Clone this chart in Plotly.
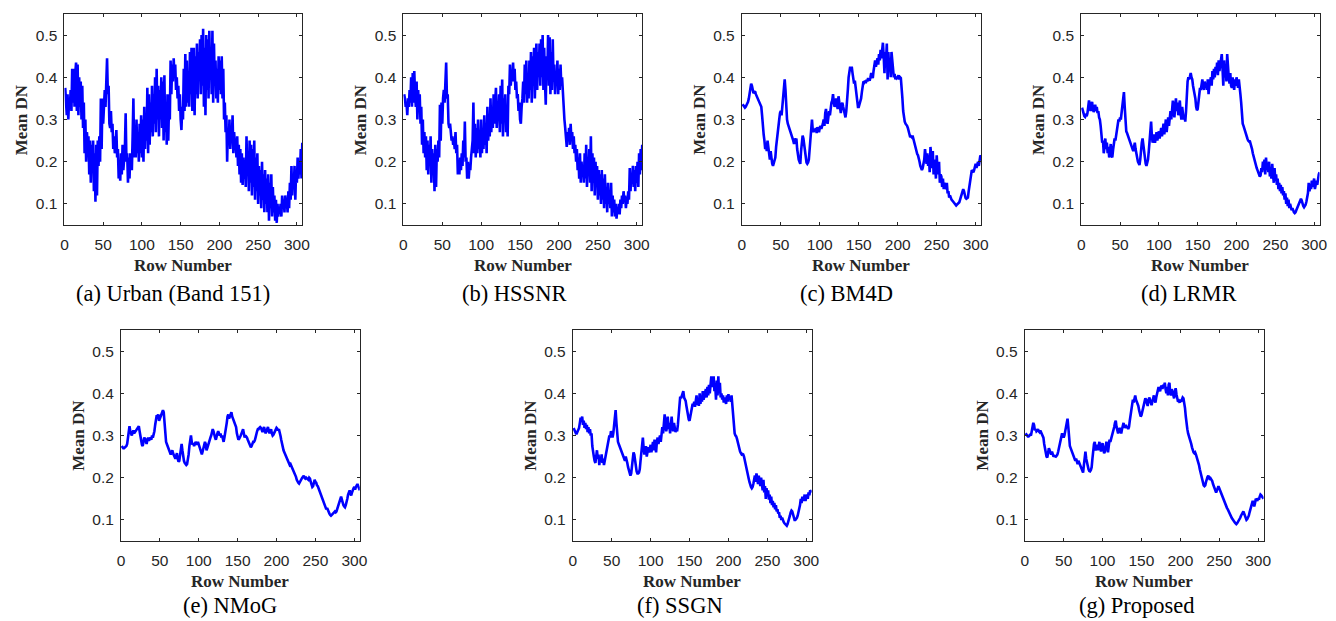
import plotly.graph_objects as go

W, H = 1336, 621

# Row index of the image (1..307)
rows = list(range(1, 308))

x_ticks = [0, 50, 100, 150, 200, 250, 300]
y_ticks = [0.1, 0.2, 0.3, 0.4, 0.5]

# Mean DN per row, band 151
urban = [
    .375, .34, .31, .36, .30, .35, .33, .37, .32, .42,
    .34, .42, .33, .41, .435, .32, .43, .31, .40, .33,
    .39, .30, .38, .28, .34, .22, .30, .20, .27, .24,
    .26, .17, .25, .15, .24, .18, .25, .13, .22, .105,
    .24, .12, .25, .19, .26, .20, .35, .23, .35, .29,
    .34, .37, .33, .40, .445, .36, .38, .29, .28, .32,
    .27, .29, .23, .26, .22, .24, .275, .21, .23, .16,
    .20, .155, .22, .17, .24, .18, .21, .23, .315, .20,
    .22, .15, .21, .16, .22, .19, .18, .26, .35, .21,
    .28, .21, .30, .22, .27, .20, .29, .22, .31, .21,
    .30, .20, .33, .23, .31, .25, .375, .22, .36, .24,
    .34, .27, .38, .26, .36, .29, .40, .27, .42, .30,
    .38, .26, .37, .30, .40, .28, .39, .25, .405, .27,
    .33, .24, .36, .25, .34, .30, .44, .36, .43, .39,
    .445, .40, .43, .37, .40, .35, .38, .32, .36, .30,
    .275, .33, .30, .42, .32, .455, .33, .44, .34, .40,
    .33, .46, .36, .47, .32, .44, .47, .31, .45, .36,
    .48, .35, .46, .40, .49, .36, .50, .38, .515, .33,
    .47, .31, .50, .37, .49, .35, .51, .40, .46, .36,
    .51, .34, .48, .38, .44, .35, .42, .34, .45, .37,
    .44, .36, .45, .35, .42, .30, .34, .27, .31, .20,
    .28, .24, .30, .23, .27, .25, .31, .22, .27, .24,
    .25, .21, .26, .19, .24, .17, .23, .15, .22, .145,
    .21, .16, .20, .14, .26, .17, .22, .13, .25, .15,
    .24, .12, .23, .14, .25, .11, .21, .13, .22, .10,
    .19, .12, .18, .09, .20, .11, .17, .08, .18, .10,
    .16, .08, .17, .06, .15, .09, .17, .07, .14, .08,
    .12, .06, .11, .055, .10, .07, .09, .08, .10, .07,
    .12, .09, .11, .08, .12, .10, .11, .08, .13, .09,
    .15, .11, .19, .12, .17, .14, .19, .11, .18, .15,
    .21, .16, .20, .17, .23, .16, .245,
]

hssnr = [
    .36, .35, .33, .34, .31, .35, .33, .37, .34, .40,
    .33, .41, .34, .415, .36, .33, .39, .30, .37, .32,
    .36, .29, .33, .24, .30, .22, .27, .21, .26, .18,
    .25, .17, .24, .19, .26, .15, .23, .17, .22, .13,
    .24, .14, .23, .20, .25, .21, .335, .25, .34, .29,
    .35, .37, .34, .38, .435, .35, .36, .29, .28, .29,
    .27, .25, .26, .24, .25, .23, .27, .22, .24, .17,
    .20, .17, .21, .18, .22, .19, .25, .21, .295, .20,
    .21, .16, .20, .16, .19, .18, .21, .24, .25, .34,
    .22, .29, .21, .28, .22, .30, .23, .27, .21, .30,
    .22, .28, .23, .31, .24, .29, .22, .33, .25, .30,
    .26, .35, .27, .33, .28, .36, .29, .34, .375, .28,
    .33, .30, .36, .27, .38, .29, .395, .26, .35, .30,
    .36, .27, .33, .26, .38, .36, .43, .38, .41, .39,
    .435, .39, .42, .37, .39, .35, .36, .32, .34, .30,
    .29, .33, .35, .39, .34, .43, .36, .44, .34, .41,
    .35, .44, .37, .46, .34, .45, .38, .47, .35, .44,
    .48, .37, .46, .40, .48, .38, .49, .40, .50, .37,
    .47, .39, .335, .45, .40, .50, .38, .495, .36, .46,
    .37, .49, .39, .43, .36, .41, .38, .44, .36, .42,
    .37, .43, .38, .40, .36, .35, .30, .28, .26, .235,
    .27, .25, .28, .24, .29, .25, .27, .23, .26, .22,
    .24, .20, .23, .18, .21, .16, .22, .15, .20, .17,
    .19, .15, .22, .16, .24, .14, .20, .17, .23, .15,
    .26, .13, .22, .15, .21, .12, .20, .14, .19, .11,
    .18, .12, .17, .10, .18, .11, .16, .09, .17, .10,
    .14, .08, .15, .10, .13, .09, .15, .07, .12, .08,
    .11, .07, .10, .065, .09, .08, .10, .075, .11, .09,
    .12, .10, .13, .11, .12, .09, .11, .10, .13, .11,
    .185, .13, .17, .15, .19, .14, .18, .13, .19, .15,
    .20, .14, .22, .17, .23, .18, .24,
]

bm4d = [
    .336, .333, .330, .328, .330, .333, .338, .342, .350, .365,
    .378, .385, .380, .368, .362, .365, .367, .360, .355, .350,
    .345, .340, .338, .333, .330, .310, .280, .265, .250, .230,
    .245, .225, .250, .230, .210, .205, .225, .200, .195, .190,
    .195, .200, .210, .235, .255, .265, .285, .300, .315, .320,
    .310, .330, .365, .380, .395, .370, .330, .300, .290, .285,
    .280, .270, .265, .260, .255, .250, .242, .255, .250, .255,
    .230, .215, .205, .200, .195, .225, .255, .262, .255, .240,
    .220, .205, .198, .195, .198, .205, .230, .265, .290, .300,
    .275, .270, .278, .272, .280, .268, .282, .275, .270, .280,
    .285, .278, .282, .290, .300, .285, .315, .325, .300, .290,
    .305, .320, .310, .330, .340, .345, .360, .340, .330, .335,
    .350, .335, .325, .355, .340, .320, .315, .335, .340, .330,
    .320, .315, .305, .320, .340, .370, .400, .420, .425, .415,
    .425, .410, .400, .385, .392, .375, .355, .340, .330, .330,
    .335, .340, .350, .365, .385, .390, .388, .392, .386, .394,
    .390, .398, .395, .392, .400, .410, .404, .398, .415, .430,
    .440, .425, .435, .445, .430, .455, .440, .465, .445, .470,
    .482, .450, .410, .460, .440, .480, .395, .460, .420, .440,
    .400, .460, .440, .415, .400, .408, .395, .402, .398, .400,
    .405, .395, .400, .398, .380, .350, .320, .300, .295, .290,
    .288, .285, .280, .270, .262, .258, .260, .258, .262, .255,
    .245, .235, .230, .225, .218, .215, .210, .200, .190, .182,
    .180, .185, .195, .205, .230, .205, .195, .220, .190, .215,
    .175, .235, .200, .185, .225, .170, .205, .190, .160, .215,
    .185, .170, .200, .150, .170, .165, .140, .160, .135, .150,
    .140, .135, .150, .125, .130, .115, .120, .112, .110, .108,
    .105, .102, .100, .098, .096, .098, .100, .102, .104, .110,
    .118, .125, .130, .135, .130, .120, .114, .112, .113, .115,
    .130, .145, .160, .170, .180, .178, .175, .180, .190, .195,
    .185, .195, .200, .190, .205, .215, .212,
]

lrmr = [
    .328, .320, .312, .308, .306, .310, .308, .315, .330, .345,
    .335, .320, .330, .342, .325, .318, .322, .335, .320, .330,
    .315, .320, .305, .300, .285, .270, .245, .250, .220, .235,
    .255, .230, .245, .220, .235, .210, .225, .242, .215, .210,
    .228, .245, .255, .250, .262, .270, .285, .300, .295, .305,
    .300, .320, .340, .355, .365, .330, .290, .272, .268, .262,
    .258, .252, .245, .240, .235, .228, .225, .235, .245, .230,
    .215, .210, .200, .195, .192, .205, .230, .245, .255, .240,
    .220, .205, .195, .190, .195, .205, .225, .250, .275, .295,
    .260, .245, .255, .265, .245, .260, .270, .250, .262, .272,
    .255, .268, .280, .260, .278, .290, .265, .285, .300, .270,
    .290, .305, .285, .310, .320, .300, .335, .345, .320, .305,
    .330, .350, .320, .340, .310, .325, .345, .315, .300, .330,
    .320, .300, .310, .295, .320, .360, .390, .400, .395, .402,
    .410, .400, .395, .380, .372, .365, .350, .330, .322, .325,
    .340, .360, .375, .370, .385, .395, .380, .370, .390, .375,
    .385, .370, .395, .360, .380, .390, .400, .380, .415, .395,
    .420, .400, .425, .410, .435, .405, .440, .415, .430, .445,
    .455, .420, .380, .440, .400, .430, .390, .455, .410, .400,
    .385, .410, .380, .375, .400, .380, .370, .395, .380, .400,
    .385, .375, .395, .365, .360, .340, .310, .290, .285, .278,
    .275, .265, .262, .255, .250, .248, .250, .245, .240, .230,
    .220, .212, .205, .195, .190, .185, .180, .175, .170, .165,
    .168, .185, .175, .200, .180, .205, .170, .210, .185, .195,
    .175, .200, .165, .180, .160, .195, .170, .150, .185, .155,
    .170, .145, .160, .135, .150, .130, .145, .125, .140, .120,
    .130, .110, .125, .100, .115, .095, .110, .090, .100, .088,
    .085, .090, .082, .080, .078, .080, .085, .090, .095, .100,
    .105, .110, .112, .108, .100, .095, .092, .095, .098, .105,
    .115, .125, .150, .130, .145, .135, .155, .140, .150, .160,
    .135, .150, .155, .145, .165, .170, .175,
]

nmog = [
    .275, .272, .270, .270, .272, .275, .275, .280, .300, .315,
    .322, .310, .305, .300, .308, .312, .305, .308, .312, .316,
    .318, .320, .322, .310, .295, .285, .278, .275, .285, .295,
    .292, .285, .280, .290, .295, .288, .292, .295, .290, .300,
    .295, .300, .310, .325, .340, .348, .345, .350, .335, .340,
    .345, .350, .355, .360, .355, .330, .300, .285, .280, .275,
    .268, .265, .258, .255, .260, .265, .258, .252, .248, .245,
    .252, .258, .245, .238, .240, .255, .270, .280, .265, .250,
    .240, .235, .232, .230, .232, .240, .255, .275, .290, .300,
    .285, .278, .282, .275, .280, .285, .282, .278, .285, .280,
    .275, .268, .260, .255, .262, .270, .275, .285, .280, .265,
    .270, .278, .285, .290, .295, .300, .305, .315, .310, .300,
    .295, .290, .300, .305, .310, .305, .300, .305, .295, .300,
    .290, .285, .295, .305, .315, .330, .345, .350, .340, .345,
    .350, .355, .345, .340, .335, .335, .330, .320, .305, .295,
    .290, .292, .295, .300, .305, .310, .315, .305, .295, .300,
    .298, .295, .290, .285, .280, .275, .272, .275, .282, .285,
    .285, .288, .295, .305, .310, .315, .315, .318, .320, .318,
    .312, .308, .315, .320, .312, .305, .310, .318, .320, .310,
    .305, .310, .315, .305, .300, .302, .306, .312, .315, .318,
    .316, .312, .315, .310, .300, .290, .280, .272, .265, .260,
    .255, .250, .245, .240, .235, .232, .230, .232, .228, .222,
    .218, .212, .208, .205, .202, .195, .190, .188, .186, .190,
    .195, .198, .200, .202, .205, .200, .198, .200, .198, .195,
    .195, .200, .198, .190, .182, .178, .180, .190, .195, .190,
    .188, .182, .180, .175, .170, .165, .160, .158, .152, .150,
    .145, .138, .130, .125, .128, .122, .118, .115, .112, .110,
    .112, .115, .116, .118, .120, .118, .120, .125, .130, .135,
    .140, .150, .155, .148, .140, .135, .132, .130, .135, .140,
    .150, .160, .165, .170, .162, .158, .165, .172, .175, .178,
    .172, .178, .182, .185, .180, .175, .170,
]

ssgn = [
    .318, .312, .308, .305, .305, .310, .312, .318, .330, .342,
    .335, .345, .325, .335, .318, .330, .315, .325, .308, .320,
    .305, .315, .300, .305, .275, .255, .250, .240, .235, .250,
    .265, .245, .255, .230, .248, .240, .255, .235, .245, .230,
    .240, .250, .262, .275, .280, .290, .300, .295, .310, .305,
    .295, .305, .330, .345, .360, .330, .300, .285, .280, .275,
    .272, .268, .262, .258, .255, .245, .240, .250, .245, .235,
    .225, .218, .210, .205, .210, .225, .245, .260, .255, .240,
    .225, .215, .210, .210, .212, .220, .240, .260, .280, .295,
    .270, .255, .262, .275, .250, .265, .272, .260, .270, .278,
    .260, .275, .285, .265, .290, .275, .260, .285, .295, .280,
    .290, .300, .285, .310, .320, .305, .335, .350, .330, .310,
    .320, .345, .315, .330, .305, .325, .345, .320, .310, .330,
    .318, .308, .315, .310, .325, .355, .380, .392, .388, .395,
    .400, .405, .390, .385, .382, .370, .355, .345, .338, .335,
    .345, .355, .365, .375, .370, .380, .368, .378, .395, .372,
    .385, .370, .400, .375, .390, .380, .405, .385, .395, .400,
    .410, .390, .415, .395, .420, .400, .425, .440, .415, .430,
    .440, .405, .420, .385, .430, .395, .440, .400, .425, .390,
    .400, .385, .395, .378, .390, .382, .375, .395, .380, .398,
    .385, .392, .380, .395, .370, .345, .320, .305, .300, .298,
    .292, .285, .275, .265, .262, .258, .255, .256, .255, .250,
    .240, .230, .222, .215, .205, .198, .190, .182, .178, .175,
    .178, .185, .195, .205, .190, .210, .200, .185, .205, .195,
    .180, .200, .185, .170, .195, .165, .180, .150, .175, .160,
    .170, .148, .160, .140, .155, .135, .145, .130, .140, .125,
    .135, .120, .125, .115, .118, .105, .110, .100, .105, .098,
    .095, .092, .090, .088, .086, .090, .095, .100, .110, .118,
    .122, .120, .112, .105, .100, .100, .102, .105, .110, .118,
    .125, .135, .150, .140, .155, .145, .150, .160, .145, .155,
    .160, .150, .165, .158, .170, .168, .165,
]

proposed = [
    .305, .302, .300, .298, .298, .300, .302, .300, .310, .322,
    .330, .325, .312, .315, .310, .312, .315, .310, .308, .312,
    .308, .305, .300, .295, .280, .268, .258, .250, .248, .262,
    .270, .265, .258, .255, .262, .255, .250, .252, .250, .250,
    .252, .255, .262, .270, .280, .290, .298, .305, .300, .295,
    .300, .310, .320, .335, .340, .320, .290, .275, .270, .265,
    .262, .255, .248, .242, .240, .245, .238, .232, .240, .235,
    .228, .222, .218, .215, .212, .230, .250, .262, .245, .235,
    .228, .220, .216, .215, .218, .225, .245, .265, .280, .285,
    .265, .270, .278, .265, .275, .285, .270, .262, .275, .282,
    .270, .258, .262, .278, .285, .275, .260, .275, .290, .285,
    .292, .298, .300, .310, .320, .330, .335, .320, .310, .305,
    .310, .318, .312, .305, .315, .325, .330, .318, .322, .325,
    .318, .322, .315, .320, .335, .350, .365, .380, .385, .378,
    .390, .395, .385, .380, .378, .370, .360, .350, .345, .348,
    .355, .365, .372, .380, .388, .385, .375, .370, .382, .390,
    .385, .378, .372, .380, .388, .395, .385, .378, .390, .400,
    .408, .415, .410, .405, .415, .418, .410, .420, .415, .425,
    .410, .400, .415, .395, .420, .425, .400, .395, .410, .400,
    .395, .388, .405, .412, .398, .385, .380, .382, .378, .385,
    .380, .385, .390, .388, .380, .365, .345, .325, .315, .305,
    .300, .295, .288, .280, .272, .265, .260, .258, .260, .255,
    .250, .245, .238, .230, .220, .212, .205, .195, .188, .182,
    .180, .182, .190, .198, .202, .205, .200, .195, .198, .195,
    .192, .185, .180, .175, .170, .165, .170, .178, .180, .175,
    .170, .165, .158, .155, .150, .145, .140, .135, .132, .128,
    .125, .120, .115, .110, .108, .105, .102, .098, .095, .094,
    .092, .090, .092, .095, .098, .100, .105, .110, .115, .118,
    .120, .115, .108, .102, .100, .102, .105, .110, .118, .125,
    .130, .140, .145, .138, .132, .140, .150, .148, .145, .152,
    .148, .155, .160, .158, .155, .152, .150,
]

captions = ["(a) Urban (Band 151)", "(b) HSSNR", "(c) BM4D", "(d) LRMR",
            "(e) NMoG", "(f) SSGN", "(g) Proposed"]
series = [urban, hssnr, bm4d, lrmr, nmog, ssgn, proposed]

for name, s in zip(captions, series):
    assert len(s) == len(rows), (name, len(s))

# Panel boxes in pixels: left, right, top, bottom, caption centre x, caption centre y
boxes = [
    (61, 301, 14, 225, 171, 293),
    (403, 644, 14, 225, 515, 293),
    (744.5, 986, 14, 225, 850, 293),
    (1087, 1327.5, 14, 225, 1196, 293),
    (118, 359, 330, 541, 228, 605),
    (574, 815, 330, 541, 682, 605),
    (1030, 1271, 330, 541, 1143, 605),
]

AX_COLOR = "#262626"
TICK_FONT = dict(family="Liberation Sans, Arial, sans-serif", size=15.5, color=AX_COLOR)
LABEL_FONT = dict(family="Liberation Serif, Times New Roman, serif", size=17, color=AX_COLOR)
CAP_FONT = dict(family="Liberation Serif, Times New Roman, serif", size=22.5, color="#000000")


def px(xp):
    return xp / W


def py(yp):
    return 1 - yp / H


fig = go.Figure()
annotations = []
layout_axes = {}

for i, (cap, s, (l, r, t, b, cx, cy)) in enumerate(zip(captions, series, boxes), start=1):
    xa = "x" if i == 1 else f"x{i}"
    ya = "y" if i == 1 else f"y{i}"
    fig.add_trace(go.Scatter(
        x=rows, y=s, mode="lines", xaxis=xa, yaxis=ya,
        line=dict(color="#0000ff", width=2.6), showlegend=False,
    ))
    common = dict(showline=True, linecolor=AX_COLOR, linewidth=1, mirror="ticks",
                  ticks="inside", ticklen=3, tickcolor=AX_COLOR, tickwidth=1,
                  showgrid=False, zeroline=False, tickfont=TICK_FONT)
    layout_axes[f"xaxis{'' if i == 1 else i}"] = dict(
        domain=[px(l), px(r)], range=[0, 307], tickvals=x_ticks,
        anchor=ya, ticklabelstandoff=5, **common)
    layout_axes[f"yaxis{'' if i == 1 else i}"] = dict(
        domain=[py(b), py(t)], range=[0.05, 0.55], tickvals=y_ticks,
        tickformat=".1f", anchor=xa, ticklabelstandoff=3, **common)

    # axis titles and panel caption
    annotations.append(dict(
        text="<b>Row Number</b>", x=px((l + r) / 2), y=py(b + 40),
        xref="paper", yref="paper", showarrow=False, font=LABEL_FONT,
        xanchor="center", yanchor="middle"))
    annotations.append(dict(
        text="<b>Mean DN</b>", x=px(l - 43), y=py((t + b) / 2),
        xref="paper", yref="paper", showarrow=False, font=LABEL_FONT,
        textangle=-90, xanchor="center", yanchor="middle"))
    annotations.append(dict(
        text=cap, x=px(cx), y=py(cy),
        xref="paper", yref="paper", showarrow=False, font=CAP_FONT,
        xanchor="center", yanchor="middle"))

fig.update_layout(
    width=W, height=H, margin=dict(l=0, r=0, t=0, b=0),
    paper_bgcolor="white", plot_bgcolor="white",
    annotations=annotations, **layout_axes,
)

fig.write_html("out.html")
